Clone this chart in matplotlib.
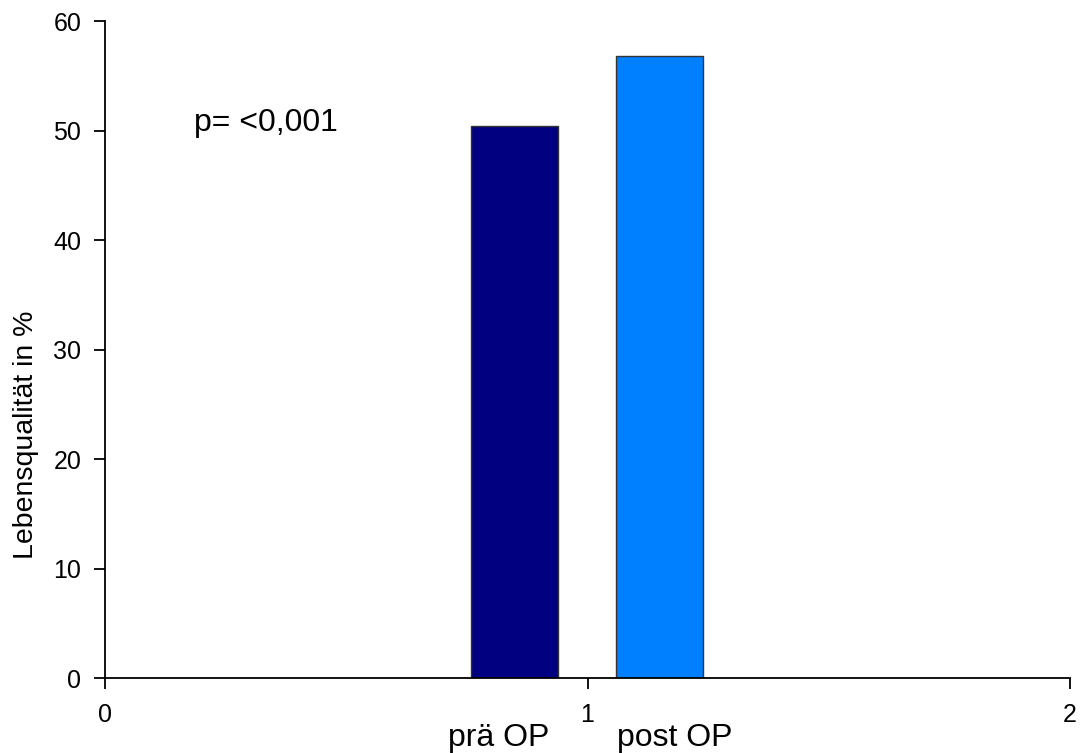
import matplotlib.pyplot as plt

plt.rcParams['font.family'] = ['Liberation Sans', 'DejaVu Sans']

# data
categories = ['prä OP', 'post OP']
positions = [0.848, 1.149]
values = [50.4, 56.8]
colors = ['#000080', '#0080FF']
label_x = [0.815, 1.181]
p_text = 'p= <0,001'


def main():
    fig = plt.figure(figsize=(10.82, 7.53), dpi=100)
    ax = fig.add_axes([0.097, 0.0996, 0.892, 0.8725])

    ax.bar(positions, values, width=0.181, color=colors,
           edgecolor='#333333', linewidth=1.0, zorder=2)

    ax.set_xlim(0, 2)
    ax.set_ylim(0, 60)
    ax.set_xticks([0, 1, 2])
    ax.set_yticks(range(0, 61, 10))
    ax.tick_params(direction='out', length=8, width=1.3, labelsize=18,
                   color='black')
    ax.tick_params(axis='x', pad=10)
    ax.tick_params(axis='y', pad=9)

    for side in ['top', 'right']:
        ax.spines[side].set_visible(False)
    for side in ['left', 'bottom']:
        ax.spines[side].set_linewidth(1.3)

    # label sits lower than the axis centre in the original
    ax.set_ylabel('Lebensqualität in %', fontsize=20.5, labelpad=10,
                  y=0.37)

    for x, name in zip(label_x, categories):
        ax.text(x, -5.5, name, ha='center', va='center', fontsize=23,
                clip_on=False)

    ax.text(0.185, 50.7, p_text, ha='left', va='center', fontsize=23)

    fig.savefig('out.png', dpi=100)


if __name__ == '__main__':
    main()
